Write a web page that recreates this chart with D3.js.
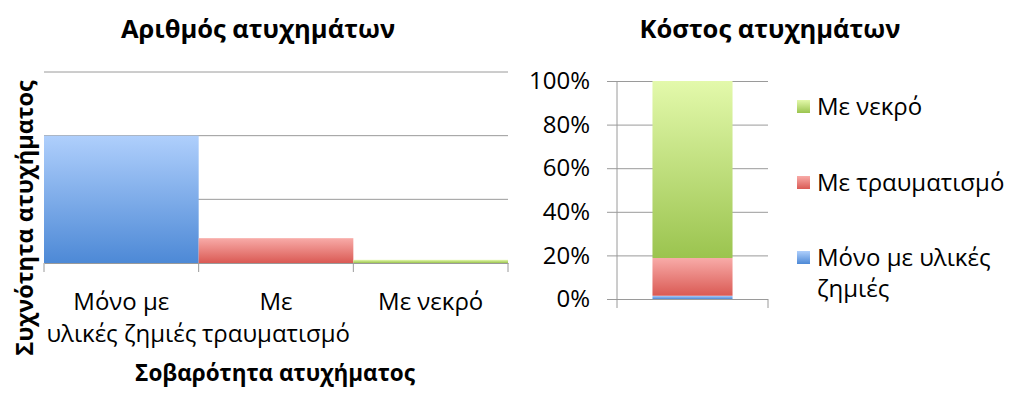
<!DOCTYPE html>
<html><head><meta charset="utf-8">
<script src="https://cdn.jsdelivr.net/npm/d3@7"></script>
<style>
html,body{margin:0;padding:0;background:#fff;}
text{font-family:"Open Sans","Noto Sans",sans-serif;fill:#000;}
</style></head>
<body>
<svg id="c" width="1024" height="407"></svg>
<script>
// ---- data ----
const categories = ["Μόνο με υλικές ζημιές", "Με τραυματισμό", "Με νεκρό"];
const categoryLabelLines = [["Μόνο με", "υλικές ζημιές"], ["Με", "τραυματισμό"], ["Με νεκρό"]];
const accidentCounts = [200, 39, 5];
const countTicks = [0, 100, 200, 300];
const costShares = [1.5, 17.3, 81.2];
const percentTicks = [0, 20, 40, 60, 80, 100];
const legendLabelLines = [["Με νεκρό"], ["Με τραυματισμό"], ["Μόνο με υλικές", "ζημιές"]];
const titleLeft = "Αριθμός ατυχημάτων";
const titleRight = "Κόστος ατυχημάτων";
const xTitle = "Σοβαρότητα ατυχήματος";
const yTitle = "Συχνότητα ατυχήματος";

const svg = d3.select("#c");
const grad = [
  ["gBlue", "#afcffc", "#4d89d6"],
  ["gRed", "#f8aba8", "#da5a54"],
  ["gGreen", "#e3f9ab", "#9bc44f"]
];
const defs = svg.append("defs");
grad.forEach(([id, a, b]) => {
  const g = defs.append("linearGradient").attr("id", id).attr("x1", 0).attr("y1", 0).attr("x2", 0).attr("y2", 1);
  g.append("stop").attr("offset", "0%").attr("stop-color", a);
  g.append("stop").attr("offset", "100%").attr("stop-color", b);
});
const fills = ["url(#gBlue)", "url(#gRed)", "url(#gGreen)"];
const grid = "#9a9a9a";
const FS = 24;

// ---- left chart ----
const xL = d3.scaleBand().domain(categories).range([44, 508]).padding(0);
const yL = d3.scaleLinear().domain([0, 300]).range([263, 72]);
const L = svg.append("g");
L.selectAll("line.grid").data(countTicks.slice(1)).join("line")
  .attr("x1", 44).attr("x2", 508).attr("y1", d => yL(d)).attr("y2", d => yL(d))
  .attr("stroke", grid).attr("stroke-width", 1);
L.selectAll("rect.bar").data(categories).join("rect")
  .attr("x", d => xL(d)).attr("width", xL.bandwidth())
  .attr("y", (d, i) => yL(accidentCounts[i])).attr("height", (d, i) => yL(0) - yL(accidentCounts[i]))
  .attr("fill", (d, i) => fills[i]);
const xAxisL = d3.axisBottom(xL).tickSize(0).tickFormat("");
const ga = L.append("g").attr("transform", `translate(0,${yL(0)})`).call(xAxisL);
ga.select(".domain").attr("stroke", grid);
const edges = categories.map(c => xL(c)).concat([xL(categories[2]) + xL.bandwidth()]);
L.selectAll("line.ctick").data(edges).join("line")
  .attr("x1", d => d).attr("x2", d => d).attr("y1", yL(0)).attr("y2", yL(0) + 9)
  .attr("stroke", grid);
categories.forEach((c, i) => {
  const t = L.append("text").attr("text-anchor", "middle").attr("font-size", FS)
    .attr("x", xL(c) + xL.bandwidth() / 2).attr("y", 310);
  categoryLabelLines[i].forEach((s, j) => t.append("tspan").attr("x", xL(c) + xL.bandwidth() / 2).attr("dy", j ? 32 : 0).text(s));
});
L.append("text").attr("x", 258).attr("y", 38).attr("text-anchor", "middle")
  .attr("font-size", 25.5).attr("font-weight", "bold").text(titleLeft);
L.append("text").attr("x", 275).attr("y", 381).attr("text-anchor", "middle")
  .attr("font-size", 22.5).attr("font-weight", "bold").text(xTitle);
L.append("text").attr("transform", "translate(33,218) rotate(-90)").attr("text-anchor", "middle")
  .attr("font-size", 23.5).attr("font-weight", "bold").text(yTitle);

// ---- right chart ----
const xR = d3.scaleBand().domain(["cost"]).range([617, 768]).padding(0.307);
const yR = d3.scaleLinear().domain([0, 100]).range([299, 81]);
const R = svg.append("g");
const yAxisR = d3.axisLeft(yR).tickValues(percentTicks).tickFormat(d => d + "%").tickSize(10).tickPadding(17);
const gy = R.append("g").attr("transform", "translate(617,0)").call(yAxisR);
gy.select(".domain").remove();
gy.selectAll(".tick line").attr("stroke", grid).attr("x2", 151).attr("x1", -10);
gy.selectAll(".tick text").attr("font-size", FS).attr("font-family", '"Open Sans","Noto Sans",sans-serif').attr("fill", "#000");
R.append("line").attr("x1", 617).attr("x2", 617).attr("y1", yR(100)).attr("y2", yR(0) + 9).attr("stroke", grid);
R.append("line").attr("x1", 768).attr("x2", 768).attr("y1", yR(0)).attr("y2", yR(0) + 9).attr("stroke", grid);
const stack = d3.stack().keys([0, 1, 2]).value((d, k) => d[k])([costShares]);
R.selectAll("rect.seg").data(stack).join("rect")
  .attr("x", xR("cost")).attr("width", xR.bandwidth())
  .attr("y", d => yR(d[0][1])).attr("height", d => yR(d[0][0]) - yR(d[0][1]))
  .attr("fill", (d, i) => fills[i]);
R.append("text").attr("x", 770).attr("y", 38).attr("text-anchor", "middle")
  .attr("font-size", 25.5).attr("font-weight", "bold").text(titleRight);

// legend (top to bottom: green, red, blue)
const legendFills = [fills[2], fills[1], fills[0]];
const legendY = [107, 183, 258];
legendLabelLines.forEach((lines, i) => {
  R.append("rect").attr("x", 797).attr("y", legendY[i] - 7).attr("width", 13).attr("height", 13).attr("fill", legendFills[i]);
  const t = R.append("text").attr("font-size", FS).attr("x", 817).attr("y", legendY[i] + 8);
  lines.forEach((s, j) => t.append("tspan").attr("x", 817).attr("dy", j ? 31 : 0).text(s));
});
</script>
</body></html>
